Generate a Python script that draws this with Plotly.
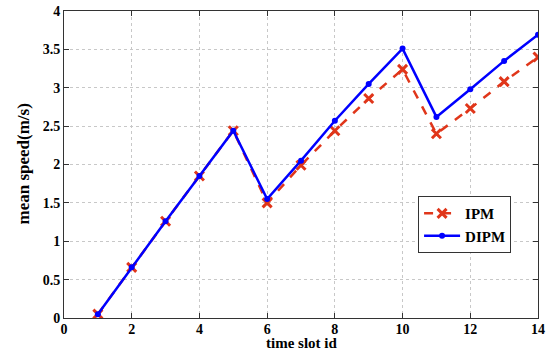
import plotly.graph_objects as go

time_slot = [1, 2, 3, 4, 5, 6, 7, 8, 9, 10, 11, 12, 13, 14]
ipm = [0.05, 0.66, 1.26, 1.85, 2.44, 1.50, 1.99, 2.44, 2.86, 3.24, 2.40, 2.73, 3.08, 3.40]
dipm = [0.05, 0.66, 1.26, 1.85, 2.44, 1.55, 2.05, 2.57, 3.05, 3.51, 2.62, 2.98, 3.35, 3.69]

font_family = "Liberation Serif"

fig = go.Figure()
fig.add_trace(go.Scatter(
    x=time_slot, y=ipm, name="<b>IPM</b>", mode="lines+markers",
    line=dict(color="#e0361a", width=2.5, dash="dash"),
    marker=dict(symbol="x-thin", size=9, line=dict(color="#e0361a", width=3), color="#e0361a"),
))
fig.add_trace(go.Scatter(
    x=time_slot, y=dipm, name="<b>DIPM</b>", mode="lines+markers",
    line=dict(color="#0000ff", width=2.5),
    marker=dict(symbol="circle", size=6, color="#0000ff"),
))

axis_common = dict(
    showline=True, linecolor="#333333", linewidth=1, mirror="ticks",
    ticks="inside", ticklen=5, tickcolor="#333333",
    showgrid=True, gridcolor="#c8c8c8", griddash="dot", gridwidth=1,
    zeroline=False, automargin=False,
    tickfont=dict(family=font_family, size=14, color="black"),
)

fig.update_layout(
    width=552, height=354,
    margin=dict(l=64, r=14, t=11, b=36),
    paper_bgcolor="white", plot_bgcolor="white",
    font=dict(family=font_family, color="black"),
    xaxis=dict(range=[0, 14], dtick=2, tick0=0, ticklabelstandoff=-2,
               tickprefix="<b>", ticksuffix="</b>", **axis_common),
    yaxis=dict(range=[0, 4], dtick=0.5, tick0=0,
               tickprefix="<b>", ticksuffix="</b>", **axis_common),
    legend=dict(x=0.747, y=0.397, xanchor="left", yanchor="top",
                bordercolor="#333333", borderwidth=1, bgcolor="white",
                font=dict(family=font_family, size=15), tracegroupgap=0,
                itemwidth=36),
    showlegend=True,
    annotations=[
        dict(text="<b>time slot id</b>", xref="paper", yref="paper",
             x=0.5, y=0, xanchor="center", yanchor="bottom", yshift=-35,
             showarrow=False, font=dict(family=font_family, size=15, color="black")),
        dict(text="<b>mean speed(m/s)</b>", xref="paper", yref="paper",
             x=0, y=0.5, xanchor="center", yanchor="middle", xshift=-41,
             textangle=-90, showarrow=False,
             font=dict(family=font_family, size=17, color="black")),
    ],
)

fig.write_html("out.html")
